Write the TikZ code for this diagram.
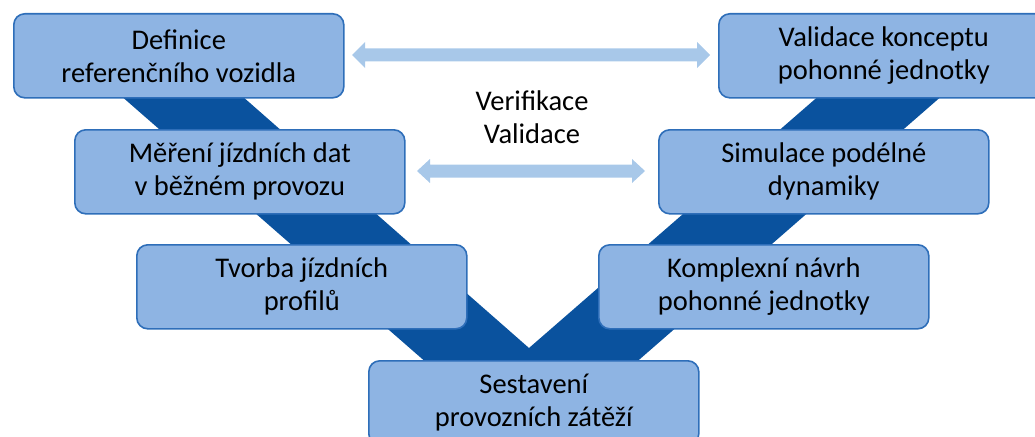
\documentclass[tikz,border=0pt]{standalone}
\usepackage{fontspec}
\setmainfont{Carlito}
\usetikzlibrary{calc}
\definecolor{boxfill}{RGB}{142,180,227}
\definecolor{boxline}{RGB}{46,110,185}
\definecolor{band}{RGB}{10,82,158}
\definecolor{arrowfill}{RGB}{168,200,233}
% double-headed block arrow between two named coordinates
\newcommand\vvarrow[4]{%
  \fill[arrowfill] (#1) -- ($(#1)+(13,-#3)$) -- ($(#1)+(13,-#4)$)
    -- ($(#2)+(-13,-#4)$) -- ($(#2)+(-13,-#3)$) -- (#2)
    -- ($(#2)+(-13,#3)$) -- ($(#2)+(-13,#4)$)
    -- ($(#1)+(13,#4)$) -- ($(#1)+(13,#3)$) -- cycle;}
\begin{document}
\begin{tikzpicture}[x=1pt,y=-1pt,
  stage/.style={draw=boxline, line width=1.6pt, fill=boxfill,
    rounded corners=11pt, minimum width=330pt, minimum height=84pt,
    inner sep=0pt, align=center, anchor=north west,
    font=\fontsize{28.5}{33}\selectfont},
  label text/.style={align=center, font=\fontsize{28.5}{33}\selectfont}]
\useasboundingbox (0,0) rectangle (1035,436);
\clip (0,0) rectangle (1035,436);

% the V-shaped band behind the stages
\fill[band] (80,60) -- (201,60) -- (529,348) -- (860,60) -- (983,60)
  -- (531,454) -- cycle;

% left branch
\node[stage] (def) at (13,13) {Definice\\referenčního vozidla};
\node[stage] (mer) at (74,129) {Měření jízdních dat\\v běžném provozu};
\node[stage] (tvo) at (136,244) {Tvorba jízdních\\profilů};
% bottom
\node[stage] (ses) at (368,360) {Sestavení\\provozních zátěží};
% right branch
\node[stage] (kom) at (598,244) {Komplexní návrh\\pohonné jednotky};
\node[stage] (sim) at (658,129) {Simulace podélné\\dynamiky};
\node[stage] (val) at (718,13) {Validace konceptu\\pohonné jednotky};

% verification / validation arrows
\coordinate (a1w) at (352,55);
\coordinate (a1e) at (710,55);
\coordinate (a2w) at (417,171);
\coordinate (a2e) at (645,171);
\vvarrow{a1w}{a1e}{13}{6.5}
\vvarrow{a2w}{a2e}{12}{6.5}

\node[label text] (vv) at (532,117) {Verifikace\\Validace};
\end{tikzpicture}
\end{document}
